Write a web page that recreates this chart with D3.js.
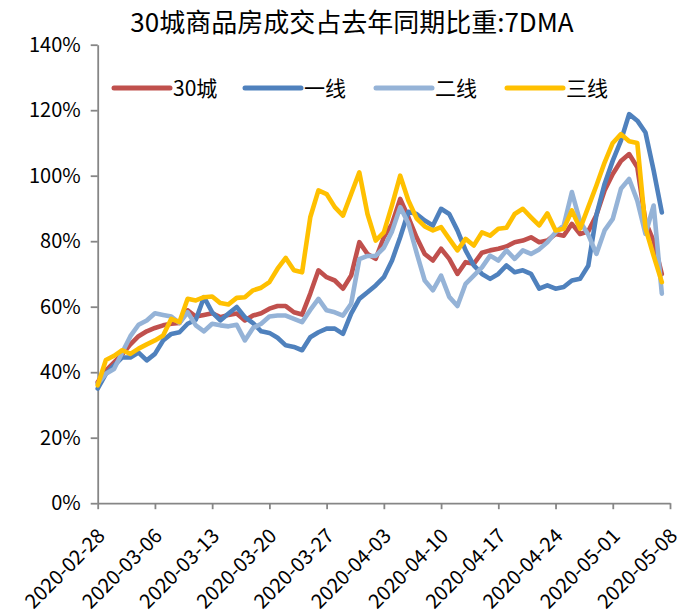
<!DOCTYPE html>
<html><head><meta charset="utf-8">
<script src="https://cdn.jsdelivr.net/npm/d3@7"></script>
<style>
body{margin:0;background:#fff}
svg{display:block}
text{font-family:"Noto Sans CJK SC","Noto Sans",sans-serif;fill:#000}
</style>
</head><body>
<svg id="c" width="694" height="614"></svg>
<script>
// ---------- data ----------
const chartTitle = "30城商品房成交占去年同期比重:7DMA";
const firstDate = "2020-02-28";
const axisEndDate = "2020-05-08";
const seriesNames = ["30城", "一线", "二线", "三线"];
const seriesColors = ["#C0504D", "#4F81BD", "#95B3D7", "#FFC000"];
const yTickValues = [0, 20, 40, 60, 80, 100, 120, 140];
const xTickLabels = ["2020-02-28","2020-03-06","2020-03-13","2020-03-20","2020-03-27",
  "2020-04-03","2020-04-10","2020-04-17","2020-04-24","2020-05-01","2020-05-08"];

const city30 = [37,40.5,43,45.5,48.5,51,52.5,53.5,54.3,54.8,
  55,58.9,57,57.5,58,56.8,57.5,57.9,55.8,57.3,
  58,59.4,60.2,60.2,58.3,57.6,64,71.1,69,68,
  65.5,69.5,79.7,76.1,74.6,81.2,85.3,92.9,87.3,81.2,
  76.1,74.1,77.7,74.6,70,73.6,73.1,76.5,77.2,77.7,
  78.4,79.7,80.2,81.2,79.7,80.2,82.2,81.7,85.3,82.2,
  83,88,95.5,100.5,104.5,106.6,102.6,86,80,70];
const tier1 = [35,39.5,42,44.5,44.5,46,43.6,45.6,49.7,51.7,
  52.2,54.8,56,62.9,58.3,55.8,57.9,59.9,56.8,55,
  52.5,52,50.5,48.2,47.7,46.7,50.7,52.2,53.3,53.3,
  51.7,57.9,62.4,64.4,66.5,69,74.1,81.2,89,88.3,
  86.3,84.8,89.9,88.3,83.3,77.2,72.6,70,68.5,70,
  72.6,70.5,71.1,70,65.5,66.5,65.5,66,68,68.5,
  72.5,88,97.5,104.6,110.7,118.8,116.8,113.2,101.6,88.8];
const tier2 = [36.5,39.5,41,46,51,54.5,55.8,58,57.5,57,
  55,58.3,54.3,52.5,54.8,54.3,54,54.5,49.7,53.5,
  54.8,57,57.3,57.3,56.3,55.3,59,62.4,58.9,58.3,
  57.3,60.9,74.5,75.5,75.5,78,83,90.4,85.5,76.5,
  68,65,69.5,63,60.2,67,69.5,72,75.6,74.1,
  77.2,74.6,77.2,76.1,77.5,79.7,82.7,84.8,95,86,
  82,76.1,83.3,86.8,96,99,92.4,82.2,90.9,64];
const tier3 = [36,43.7,45,46.7,45.6,47.2,48.5,49.7,51.2,56.3,
  55.3,62.4,61.9,62.9,63.1,61.1,60.7,62.7,62.9,65,
  65.8,67.5,71.6,74.9,71.1,70.5,87.3,95.5,94.4,90.4,
  87.8,94.4,101,88.3,80.2,82.7,91,100,92.4,87,
  84.5,83.3,84.3,80.7,77.2,80.7,78.7,82.7,81.7,83.8,
  84.1,88.3,89.9,87.3,84.8,88.5,83.3,83.8,89.4,83.8,
  90.4,97,104,110,112.7,110.5,110,84,75.5,67.5];

// ---------- layout ----------
const svg = d3.select("#c");
const parse = d3.utcParse("%Y-%m-%d");
const dates = d3.utcDay.range(parse(firstDate), parse(axisEndDate)).slice(0, city30.length);
const seriesValues = [city30, tier1, tier2, tier3];

const x = d3.scaleUtc().domain([parse(firstDate), parse(axisEndDate)]).range([97.7, 670]);
const y = d3.scaleLinear().domain([0, 140]).range([503.2, 44.7]);
const axisColor = "#868686";

// title
svg.append("text").attr("x", 352).attr("y", 32).attr("text-anchor", "middle")
  .style("font-size", "26px").text(chartTitle);

// y axis
const gy = svg.append("g").attr("transform", "translate(97.7,0)")
  .call(d3.axisLeft(y).tickValues(yTickValues).tickFormat(d => d + "%").tickSize(7).tickSizeOuter(0).tickPadding(10));
gy.select(".domain").attr("stroke", axisColor).attr("stroke-width", 1.8);
gy.selectAll(".tick line").attr("stroke", axisColor).attr("stroke-width", 1.8);
gy.selectAll(".tick text").style("font-size", "20px").style("font-family", "'Noto Sans CJK SC',sans-serif");

// x axis
const gx = svg.append("g").attr("transform", "translate(0,503.2)")
  .call(d3.axisBottom(x).tickValues(xTickLabels.map(parse)).tickFormat(d3.utcFormat("%Y-%m-%d")).tickSize(6).tickSizeOuter(0));
gx.select(".domain").attr("stroke", axisColor).attr("stroke-width", 1.8);
gx.selectAll(".tick line").attr("stroke", axisColor).attr("stroke-width", 1.8);
gx.selectAll(".tick text")
  .attr("y", 0).attr("dy", 0).attr("text-anchor", "end")
  .attr("transform", "translate(8,34) rotate(-45)")
  .style("font-size", "20px").style("font-family", "'Noto Sans CJK SC',sans-serif");

// lines
const line = d3.line().x((d, i) => x(dates[i])).y(d => y(d));
seriesValues.forEach((vals, k) => {
  svg.append("path").datum(vals).attr("d", line)
    .attr("fill", "none").attr("stroke", seriesColors[k]).attr("stroke-width", 4.6)
    .attr("stroke-linejoin", "round").attr("stroke-linecap", "round");
});

// legend
const lg = svg.append("g");
seriesNames.forEach((name, k) => {
  const x0 = 114 + k * 131;
  lg.append("line").attr("x1", x0).attr("x2", x0 + 56).attr("y1", 88).attr("y2", 88)
    .attr("stroke", seriesColors[k]).attr("stroke-width", 5).attr("stroke-linecap", "round");
  lg.append("text").attr("x", x0 + 59).attr("y", 88).attr("dy", "0.36em")
    .style("font-size", "21px").text(name);
});
</script>
</body></html>
